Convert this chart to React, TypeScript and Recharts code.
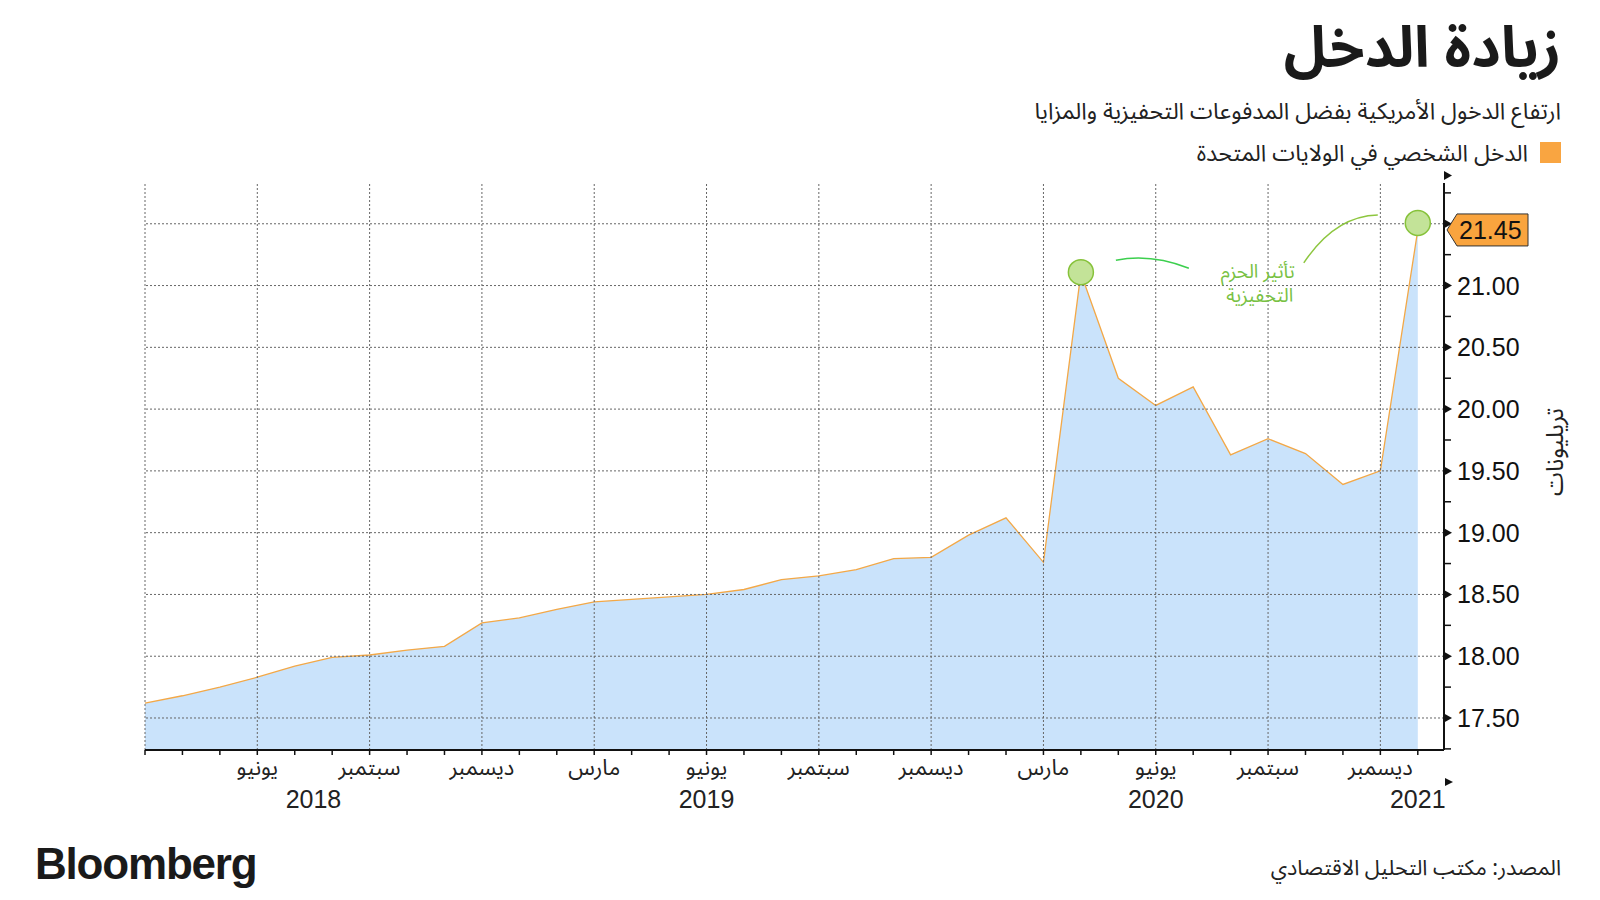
import { AreaChart, Area, XAxis, YAxis, ReferenceLine, ReferenceDot } from 'recharts';

// monthly personal income, trillions USD (SAAR)
const months = [
  '2018-03', '2018-04', '2018-05', '2018-06', '2018-07', '2018-08', '2018-09', '2018-10', '2018-11', '2018-12',
  '2019-01', '2019-02', '2019-03', '2019-04', '2019-05', '2019-06', '2019-07', '2019-08', '2019-09', '2019-10', '2019-11', '2019-12',
  '2020-01', '2020-02', '2020-03', '2020-04', '2020-05', '2020-06', '2020-07', '2020-08', '2020-09', '2020-10', '2020-11', '2020-12',
  '2021-01',
];
const income = [
  17.62, 17.68, 17.75, 17.83, 17.92, 17.99, 18.01, 18.05, 18.08, 18.27,
  18.31, 18.38, 18.44, 18.46, 18.48, 18.5, 18.54, 18.62, 18.65, 18.7, 18.79, 18.8,
  18.98, 19.12, 18.76, 21.1, 20.25, 20.03, 20.18, 19.63, 19.76, 19.64, 19.39, 19.5,
  21.45,
];
const quarterNames: Record<string, string> = { '03': 'مارس', '06': 'يونيو', '09': 'سبتمبر', '12': 'ديسمبر' };
const years = ['2018', '2019', '2020', '2021'];
const yearAt = [4.5, 15, 27, 34];
const majorTicks = [17.5, 18, 18.5, 19, 19.5, 20, 20.5, 21, 21.5];
const minorTicks = [17.25, 17.75, 18.25, 18.75, 19.25, 19.75, 20.25, 20.75, 21.25, 21.75];
const highlighted = ['2020-04', '2021-01'];
const noteLines = ['تأثير الحزم', 'التحفيزية'];

const data = months.map((m, i) => ({ i, month: m, v: income[i] }));
const lastValue = income[income.length - 1];
const quarterIdx = months.map((m, i) => (quarterNames[m.slice(5)] ? i : -1)).filter((i) => i >= 0);
const xTicks = [...months.map((_, i) => i), ...yearAt.filter((p) => !Number.isInteger(p))];
const yTicks = [...minorTicks, ...majorTicks, lastValue];

const arFont = '"Noto Sans Arabic", "DejaVu Sans", sans-serif';
const numFont = '"Liberation Sans", Arial, sans-serif';
const green = '#78c143';

function XTick(props: any) {
  const { x, y, payload } = props;
  const v = payload.value as number;
  const isMonth = Number.isInteger(v);
  const name = isMonth && v > 0 ? quarterNames[months[v].slice(5)] : undefined;
  const yi = yearAt.indexOf(v);
  return (
    <g>
      {isMonth && <line x1={x} y1={y} x2={x} y2={y + 5} stroke="#111" strokeWidth={1.5} />}
      {name && (
        <text x={x} y={y + 25} textAnchor="middle" fontSize={22} fontFamily={arFont} fill="#222">
          {name}
        </text>
      )}
      {yi >= 0 && (
        <text x={x} y={y + 58} textAnchor="middle" fontSize={25} fontFamily={numFont} fill="#222">
          {years[yi]}
        </text>
      )}
    </g>
  );
}

function YTick(props: any) {
  const { x, y, payload } = props;
  const v = payload.value as number;
  if (v === lastValue) {
    return (
      <g>
        <polygon
          points={`${x + 3},${y} ${x + 13},${y - 16} ${x + 84},${y - 16} ${x + 84},${y + 16} ${x + 13},${y + 16}`}
          fill="#f9a43e"
          stroke="#333"
          strokeWidth={1}
        />
        <text x={x + 15} y={y} dominantBaseline="central" fontSize={25} fontFamily={numFont} fill="#111">
          {v.toFixed(2)}
        </text>
      </g>
    );
  }
  const major = majorTicks.includes(v);
  if (!major) return <line x1={x} y1={y} x2={x + 7} y2={y} stroke="#111" strokeWidth={1.5} />;
  return (
    <g>
      <polygon points={`${x},${y - 4.5} ${x + 8},${y} ${x},${y + 4.5}`} fill="#111" />
      {v !== 21.5 && (
        <text x={x + 13} y={y} dominantBaseline="central" fontSize={25} fontFamily={numFont} fill="#111">
          {v.toFixed(2)}
        </text>
      )}
    </g>
  );
}

function AprilMark(props: any) {
  const { cx, cy } = props;
  return (
    <g>
      <circle cx={cx} cy={cy - 1} r={12.5} fill="#c3e398" stroke="#86c23a" strokeWidth={1.5} />
      <path d={`M ${cx + 35} ${cy - 13} Q ${cx + 70} ${cy - 20} ${cx + 108} ${cy - 5}`} fill="none" stroke="#3ccf4e" strokeWidth={1.5} />
    </g>
  );
}

function JanuaryMark(props: any) {
  const { cx, cy } = props;
  return (
    <g>
      <circle cx={cx} cy={cy - 7} r={12.5} fill="#c3e398" stroke="#86c23a" strokeWidth={1.5} />
      <path d={`M ${cx - 114} ${cy + 33} Q ${cx - 83} ${cy - 14} ${cx - 40} ${cy - 15}`} fill="none" stroke="#8dc63f" strokeWidth={1.5} />
      <text textAnchor="middle" fontSize={19} fontFamily={arFont} fill={green}>
        <tspan x={cx - 160} y={cy + 48}>{noteLines[0]}</tspan>
        <tspan x={cx - 158} y={cy + 72}>{noteLines[1]}</tspan>
      </text>
    </g>
  );
}

export default function App() {
  const txt = (extra: React.CSSProperties): React.CSSProperties => ({
    position: 'absolute',
    direction: 'rtl',
    whiteSpace: 'nowrap',
    fontFamily: arFont,
    color: '#222',
    lineHeight: 1.2,
    ...extra,
  });
  return (
    <div style={{ position: 'absolute', left: 0, top: 0, width: 1600, height: 900, background: '#fff', overflow: 'hidden' }}>
      <div style={txt({ right: 39, top: 15, fontSize: 57, fontWeight: 700, color: '#1a1a1a' })}>زيادة الدخل</div>
      <div style={txt({ right: 39, top: 98, fontSize: 23 })}>ارتفاع الدخول الأمريكية بفضل المدفوعات التحفيزية والمزايا</div>
      <div style={{ position: 'absolute', right: 39, top: 142, width: 21, height: 21, background: '#f9a541' }} />
      <div style={txt({ right: 72, top: 140, fontSize: 23 })}>الدخل الشخصي في الولايات المتحدة</div>

      <AreaChart width={1600} height={900} data={data} margin={{ top: 183, right: 36, bottom: 90, left: 145 }}>
        <XAxis
          dataKey="i"
          type="number"
          domain={[0, 34.7]}
          ticks={xTicks}
          interval={0}
          height={60}
          tickSize={0}
          tickMargin={0}
          tickLine={false}
          axisLine={{ stroke: '#111', strokeWidth: 2 }}
          tick={<XTick />}
        />
        <YAxis
          orientation="right"
          type="number"
          domain={[17.241, 21.83]}
          ticks={yTicks}
          interval={0}
          width={120}
          tickSize={0}
          tickMargin={0}
          tickLine={false}
          axisLine={{ stroke: '#111', strokeWidth: 2 }}
          tick={<YTick />}
        />
        <Area
          type="linear"
          dataKey="v"
          stroke="#f3a847"
          strokeWidth={1.3}
          fill="#cae3fb"
          fillOpacity={1}
          dot={false}
          activeDot={false}
          isAnimationActive={false}
        />
        {quarterIdx.map((q) => (
          <ReferenceLine key={`vx${q}`} x={q} stroke="#666" strokeDasharray="2 2" />
        ))}
        {majorTicks.map((t) => (
          <ReferenceLine key={`hy${t}`} y={t} stroke="#666" strokeDasharray="2 2" />
        ))}
        <ReferenceDot x={months.indexOf(highlighted[0])} y={income[months.indexOf(highlighted[0])]} shape={<AprilMark />} />
        <ReferenceDot x={months.indexOf(highlighted[1])} y={income[months.indexOf(highlighted[1])]} shape={<JanuaryMark />} />
      </AreaChart>

      <svg width={1600} height={900} style={{ position: 'absolute', left: 0, top: 0, pointerEvents: 'none' }}>
        <polygon points="1444,171 1452,175.5 1444,180" fill="#111" />
        <polygon points="1445,778 1453,782 1445,786" fill="#111" />
      </svg>

      <div
        style={txt({
          left: 1556,
          top: 452,
          fontSize: 24,
          transform: 'translate(-50%, -50%) rotate(-90deg)',
        })}
      >
        تريليونات
      </div>
      <div style={{ position: 'absolute', left: 35, top: 842, fontFamily: numFont, fontWeight: 700, fontSize: 44, letterSpacing: -1.2, color: '#1a1a1a', lineHeight: 1 }}>
        Bloomberg
      </div>
      <div style={txt({ right: 39, top: 856, fontSize: 21.5 })}>المصدر: مكتب التحليل الاقتصادي</div>
    </div>
  );
}
